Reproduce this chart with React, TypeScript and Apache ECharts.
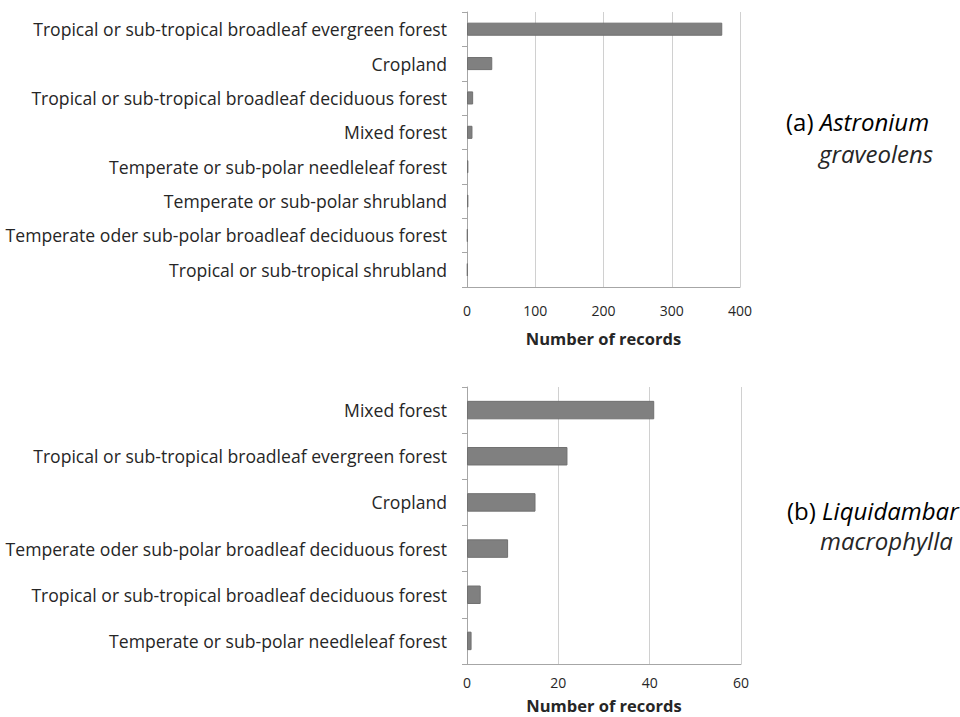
import React, { useEffect, useRef } from "react";
import * as echarts from "echarts";

const catsA = [
  "Tropical or sub-tropical broadleaf evergreen forest",
  "Cropland",
  "Tropical or sub-tropical broadleaf deciduous forest",
  "Mixed forest",
  "Temperate or sub-polar needleleaf forest",
  "Temperate or sub-polar shrubland",
  "Temperate oder sub-polar broadleaf deciduous forest",
  "Tropical or sub-tropical shrubland",
];
const valsA = [374, 37, 9, 8, 2, 2, 1, 1];

const catsB = [
  "Mixed forest",
  "Tropical or sub-tropical broadleaf evergreen forest",
  "Cropland",
  "Temperate oder sub-polar broadleaf deciduous forest",
  "Tropical or sub-tropical broadleaf deciduous forest",
  "Temperate or sub-polar needleleaf forest",
];
const valsB = [41, 22, 15, 9, 3, 1];

const FONT = "Open Sans";
const TXT = "#262626";

export default function App() {
  const ref = useRef<HTMLDivElement>(null);
  useEffect(() => {
    const chart = echarts.init(ref.current!, null, { renderer: "svg" });
    const xAxisCommon = (max: number, interval: number, margin: number, gap: number) => ({
      type: "value",
      min: 0,
      max,
      interval,
      name: "Number of records",
      nameLocation: "middle",
      nameGap: gap,
      nameTextStyle: { fontFamily: FONT, fontSize: 16.5, fontWeight: "bold", color: TXT },
      axisLine: { show: true, lineStyle: { color: "#a6a6a6" } },
      axisTick: { show: false },
      axisLabel: { fontFamily: FONT, fontSize: 14, color: TXT, margin },
      splitLine: { show: true, lineStyle: { color: "#d0d0d0" } },
    });
    const yAxisCommon = (cats: string[]) => ({
      type: "category",
      data: cats,
      inverse: true,
      axisLine: { show: true, lineStyle: { color: "#a6a6a6" } },
      axisTick: { show: true, length: 5, lineStyle: { color: "#a6a6a6" } },
      axisLabel: { fontFamily: FONT, fontSize: 17.6, color: TXT, margin: 20 },
    });
    const barStyle = { color: "#808080", borderColor: "#707070", borderWidth: 1 };
    const titleStyle = (text: string, italic: boolean) => ({
      text,
      fontFamily: FONT,
      fontSize: 24,
      fontStyle: italic ? "italic" : "normal",
      fill: TXT,
      align: "left",
      verticalAlign: "middle",
    });
    const richTitle = (text: string) => ({
      text,
      align: "left",
      verticalAlign: "middle",
      rich: {
        n: { fontFamily: FONT, fontSize: 24, color: TXT },
        i: { fontFamily: FONT, fontSize: 24, fontStyle: "italic", color: TXT },
      },
    });
    chart.setOption({
      animation: false,
      backgroundColor: "#ffffff",
      grid: [
        { left: 467, right: 220, top: 12, height: 275 },
        { left: 467, right: 219, top: 387, height: 277 },
      ],
      xAxis: [
        { ...xAxisCommon(400, 100, 16, 43), gridIndex: 0 },
        { ...xAxisCommon(60, 20, 11, 33), gridIndex: 1 },
      ],
      yAxis: [
        { ...yAxisCommon(catsA), gridIndex: 0 },
        { ...yAxisCommon(catsB), gridIndex: 1 },
      ],
      series: [
        { type: "bar", xAxisIndex: 0, yAxisIndex: 0, data: valsA, barWidth: "38%", itemStyle: barStyle },
        { type: "bar", xAxisIndex: 1, yAxisIndex: 1, data: valsB, barWidth: "40%", itemStyle: barStyle },
      ],
      graphic: [
        { type: "text", x: 786, y: 121, style: richTitle("{n|(a) }{i|Astronium}") },
        { type: "text", x: 819, y: 153, style: titleStyle("graveolens", true) },
        { type: "text", x: 787, y: 510, style: richTitle("{n|(b) }{i|Liquidambar}") },
        { type: "text", x: 820, y: 540, style: titleStyle("macrophylla", true) },
      ],
    });
    return () => chart.dispose();
  }, []);
  return <div ref={ref} style={{ width: 960, height: 717, position: "absolute", left: 0, top: 0 }} />;
}
